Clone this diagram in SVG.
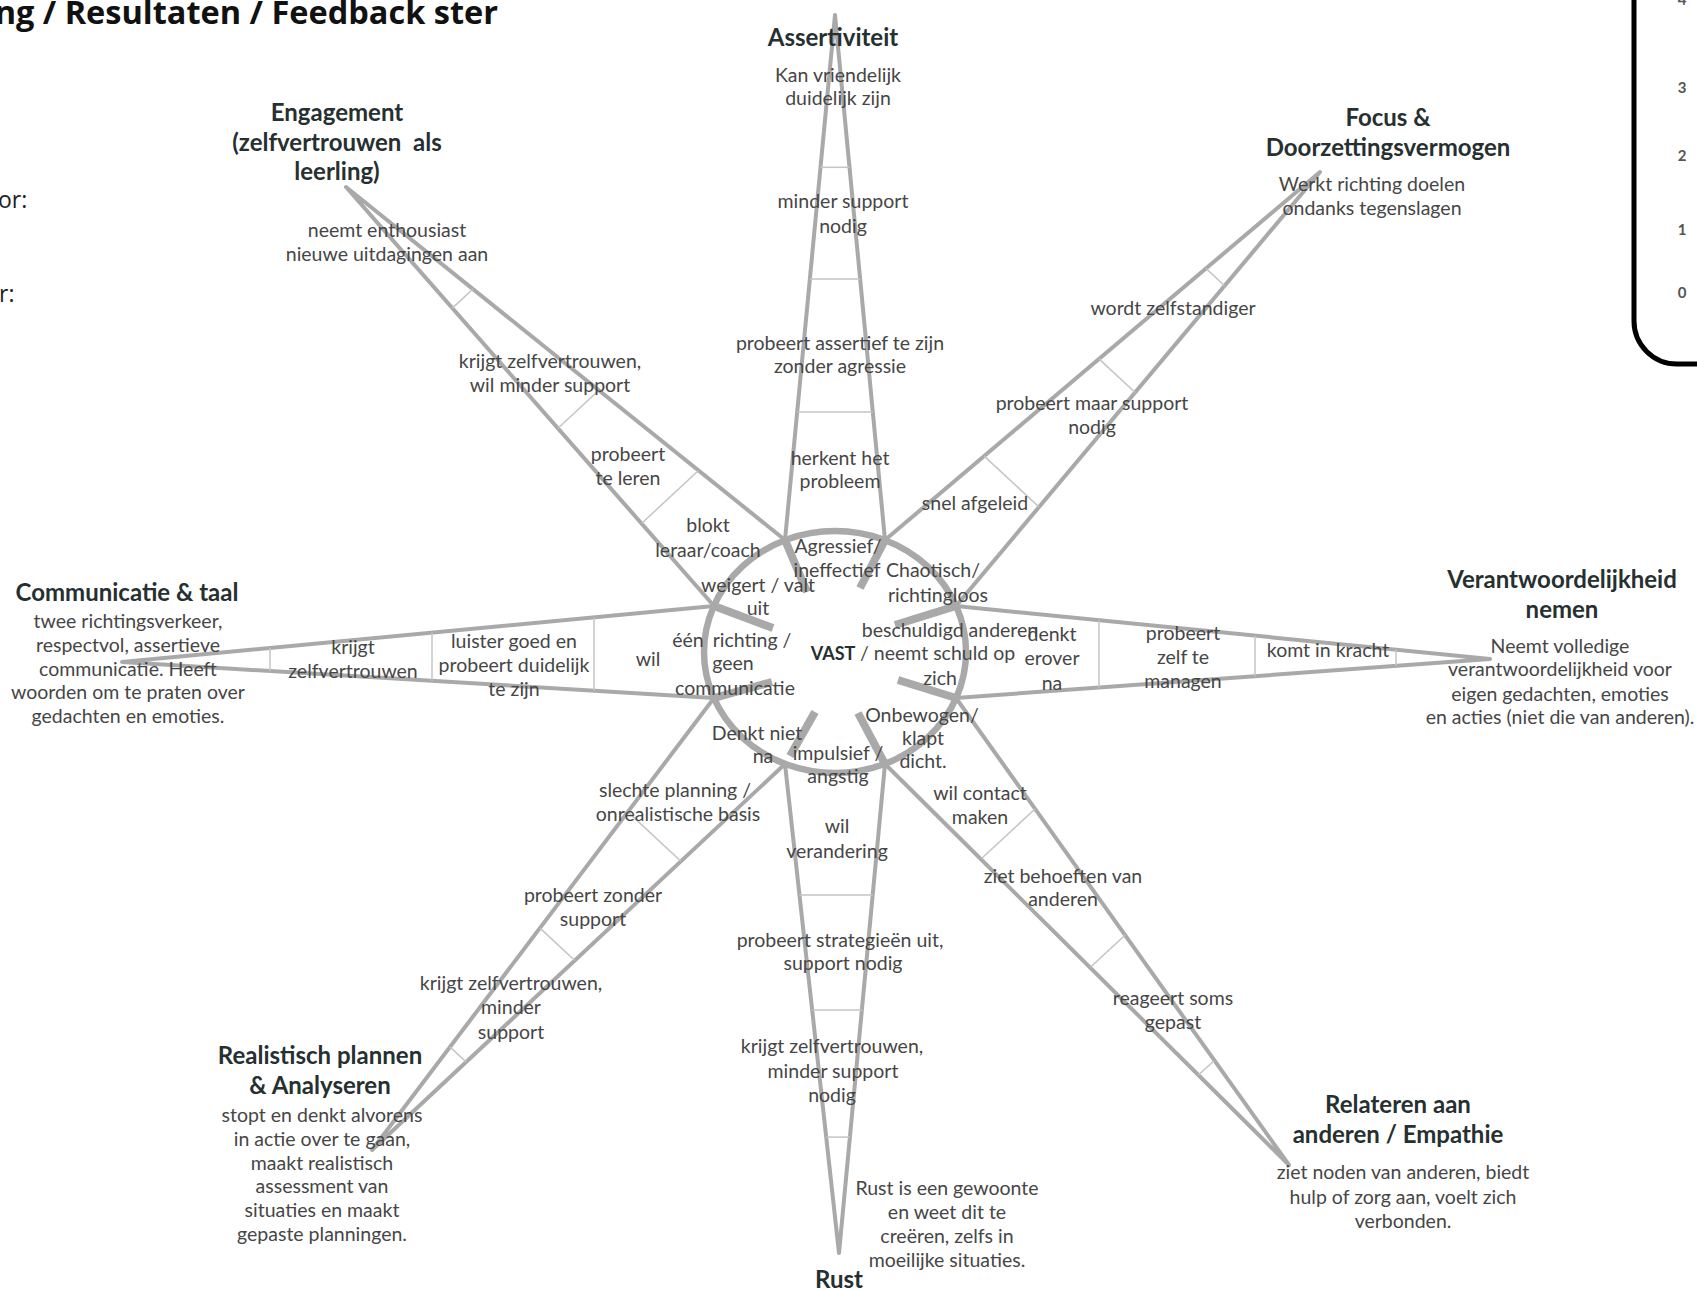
<svg xmlns="http://www.w3.org/2000/svg" width="1697" height="1289" viewBox="0 0 1697 1289">
<style>
.sp{stroke:#a9a9a9;stroke-width:4;fill:none;stroke-linejoin:round}
.tk{stroke:#c4c4c4;stroke-width:1.5}
.hub{stroke:#a9a9a9;stroke-width:6.5;fill:none}
.stub{stroke:#a9a9a9;stroke-width:8}
.t{font-family:Lato,"Liberation Sans",sans-serif;font-size:19.5px;fill:#464646;text-anchor:middle}
.h{font-family:Lato,"Liberation Sans",sans-serif;font-size:24px;font-weight:700;fill:#263030;text-anchor:middle}
.n{font-family:Lato,"Liberation Sans",sans-serif;font-size:15px;font-weight:700;fill:#555;text-anchor:middle}
</style>
<rect width="1697" height="1289" fill="#fff"/>
<text x="498" y="24" font-family="'Open Sans','Liberation Sans',sans-serif" font-size="32.5" font-weight="700" fill="#111" text-anchor="end">ng / Resultaten / Feedback ster</text>
<text x="-2" y="208" font-family="'Open Sans','Liberation Sans',sans-serif" font-size="23" fill="#222">or:</text>
<text x="-1" y="302" font-family="'Open Sans','Liberation Sans',sans-serif" font-size="23" fill="#222">r:</text>
<g id="scale">
<path d="M1634,-10 V321 A43,43 0 0 0 1677,364 H1710" fill="none" stroke="#000" stroke-width="5"/>
<text class="n" x="1682" y="5">4</text>
<text class="n" x="1682" y="93">3</text>
<text class="n" x="1682" y="161">2</text>
<text class="n" x="1682" y="235">1</text>
<text class="n" x="1682" y="298">0</text>
</g>
<g id="connectors">
<path class="sp" d="M714,606 L346,187 L785,540"/>
<path class="sp" d="M785,540 L835,15 L885,540"/>
<path class="sp" d="M885,540 L1320,172 L956,606"/>
<path class="sp" d="M956,606 L1490,659 L956,698"/>
<path class="sp" d="M956,698 L1289,1165 L885,764"/>
<path class="sp" d="M885,764 L839,1253 L785,764"/>
<path class="sp" d="M785,764 L372,1150 L714,698"/>
<path class="sp" d="M714,698 L122,662 L714,606"/>
<g class="tk">
<line x1="452.4" y1="308.1" x2="472.9" y2="289"/>
<line x1="558" y1="428.3" x2="598.9" y2="390.3"/>
<line x1="641.5" y1="523.5" x2="698.5" y2="470.5"/>
<line x1="820.5" y1="167.3" x2="849.5" y2="167.3"/>
<line x1="809.9" y1="279.1" x2="860.2" y2="279.1"/>
<line x1="797.2" y1="411.9" x2="872.8" y2="411.9"/>
<line x1="1206" y1="268.4" x2="1224.6" y2="285.7"/>
<line x1="1099" y1="358.9" x2="1135.1" y2="392.5"/>
<line x1="984.2" y1="456.1" x2="1039" y2="507"/>
<line x1="1396" y1="649.7" x2="1396" y2="665.9"/>
<line x1="1255" y1="635.7" x2="1255" y2="676.2"/>
<line x1="1099" y1="620.2" x2="1099" y2="687.5"/>
<line x1="1214.1" y1="1060.8" x2="1198.1" y2="1075.2"/>
<line x1="1125.2" y1="935.0" x2="1090.4" y2="967.3"/>
<line x1="1035.2" y1="808.8" x2="981.3" y2="858.8"/>
<line x1="849.9" y1="1137.1" x2="826.2" y2="1137.1"/>
<line x1="861.9" y1="1010" x2="812.2" y2="1010"/>
<line x1="872.7" y1="895.1" x2="799.5" y2="895.1"/>
<line x1="466.1" y1="1062" x2="449.9" y2="1046.9"/>
<line x1="574.8" y1="960.5" x2="540" y2="928.1"/>
<line x1="680.9" y1="861.3" x2="627.8" y2="811.9"/>
<line x1="270" y1="648" x2="270" y2="671"/>
<line x1="432" y1="632.7" x2="432" y2="680.9"/>
<line x1="594" y1="617.4" x2="594" y2="690.7"/>
</g>
</g>
<g id="hub">
<ellipse class="hub" cx="835" cy="652" rx="131" ry="121"/>
<line class="stub" x1="785" y1="540" x2="807" y2="592"/>
<line class="stub" x1="885" y1="540" x2="860" y2="588"/>
<line class="stub" x1="714" y1="606" x2="773" y2="628"/>
<line class="stub" x1="714" y1="698" x2="772" y2="682"/>
<line class="stub" x1="790" y1="756" x2="815" y2="712"/>
<line class="stub" x1="885" y1="764" x2="858" y2="713"/>
<line class="stub" x1="956" y1="698" x2="898" y2="680"/>
<line class="stub" x1="956" y1="606" x2="895" y2="625"/>
<text x="833" y="660" font-family="Lato,'Liberation Sans',sans-serif" font-size="18" font-weight="700" fill="#263030" text-anchor="middle">VAST</text>
</g>
<g id="engagement">
<text class="h" x="337" y="121">Engagement</text>
<text class="h" x="337" y="151" xml:space="preserve">(zelfvertrouwen  als</text>
<text class="h" x="337" y="180">leerling)</text>
<text class="t" x="387" y="237">neemt enthousiast</text>
<text class="t" x="387" y="261">nieuwe uitdagingen aan</text>
<text class="t" x="550" y="368">krijgt zelfvertrouwen,</text>
<text class="t" x="550" y="392">wil minder support</text>
<text class="t" x="628" y="461">probeert</text>
<text class="t" x="628" y="485">te leren</text>
<text class="t" x="708" y="532">blokt</text>
<text class="t" x="708" y="557">leraar/coach</text>
<text class="t" x="758" y="592">weigert / valt</text>
<text class="t" x="758" y="615">uit</text>
</g>
<g id="assertiviteit">
<text class="h" x="833" y="46">Assertiviteit</text>
<text class="t" x="838" y="82">Kan vriendelijk</text>
<text class="t" x="838" y="105">duidelijk zijn</text>
<text class="t" x="843" y="208">minder support</text>
<text class="t" x="843" y="233">nodig</text>
<text class="t" x="840" y="350">probeert assertief te zijn</text>
<text class="t" x="840" y="373">zonder agressie</text>
<text class="t" x="840" y="465">herkent het</text>
<text class="t" x="840" y="488">probleem</text>
<text class="t" x="838" y="553">Agressief/</text>
<text class="t" x="837" y="577">ineffectief</text>
</g>
<g id="focus">
<text class="h" x="1388" y="126">Focus &amp;</text>
<text class="h" x="1388" y="156">Doorzettingsvermogen</text>
<text class="t" x="1372" y="191">Werkt richting doelen</text>
<text class="t" x="1372" y="215">ondanks tegenslagen</text>
<text class="t" x="1173" y="315">wordt zelfstandiger</text>
<text class="t" x="1092" y="410">probeert maar support</text>
<text class="t" x="1092" y="434">nodig</text>
<text class="t" x="975" y="510">snel afgeleid</text>
<text class="t" x="933" y="577">Chaotisch/</text>
<text class="t" x="938" y="602">richtingloos</text>
</g>
<g id="verantwoordelijkheid">
<text class="h" x="1562" y="588">Verantwoordelijkheid</text>
<text class="h" x="1562" y="618">nemen</text>
<text class="t" x="1560" y="653">Neemt volledige</text>
<text class="t" x="1560" y="676">verantwoordelijkheid voor</text>
<text class="t" x="1560" y="701">eigen gedachten, emoties</text>
<text class="t" x="1560" y="724">en acties (niet die van anderen).</text>
<text class="t" x="1328" y="657">komt in kracht</text>
<text class="t" x="1183" y="640">probeert</text>
<text class="t" x="1183" y="664">zelf te</text>
<text class="t" x="1183" y="688">managen</text>
<text class="t" x="1052" y="641">denkt</text>
<text class="t" x="1052" y="665">erover</text>
<text class="t" x="1052" y="690">na</text>
<text class="t" x="950" y="637">beschuldigd anderen</text>
<text class="t" x="860" y="660" style="text-anchor:start">/ neemt schuld op</text>
<text class="t" x="940" y="685">zich</text>
</g>
<g id="relateren">
<text class="h" x="1398" y="1113">Relateren aan</text>
<text class="h" x="1398" y="1143">anderen / Empathie</text>
<text class="t" x="1403" y="1179">ziet noden van anderen, biedt</text>
<text class="t" x="1403" y="1204">hulp of zorg aan, voelt zich</text>
<text class="t" x="1403" y="1228">verbonden.</text>
<text class="t" x="1173" y="1005">reageert soms</text>
<text class="t" x="1173" y="1029">gepast</text>
<text class="t" x="1063" y="883">ziet behoeften van</text>
<text class="t" x="1063" y="906">anderen</text>
<text class="t" x="980" y="800">wil contact</text>
<text class="t" x="980" y="824">maken</text>
<text class="t" x="922" y="722">Onbewogen/</text>
<text class="t" x="923" y="745">klapt</text>
<text class="t" x="923" y="768">dicht.</text>
</g>
<g id="rust">
<text class="h" x="839" y="1288">Rust</text>
<text class="t" x="947" y="1195">Rust is een gewoonte</text>
<text class="t" x="947" y="1219">en weet dit te</text>
<text class="t" x="947" y="1243">creëren, zelfs in</text>
<text class="t" x="947" y="1267">moeilijke situaties.</text>
<text class="t" x="832" y="1053">krijgt zelfvertrouwen,</text>
<text class="t" x="833" y="1078">minder support</text>
<text class="t" x="832" y="1102">nodig</text>
<text class="t" x="840" y="947">probeert strategieën uit,</text>
<text class="t" x="843" y="970">support nodig</text>
<text class="t" x="837" y="833">wil</text>
<text class="t" x="837" y="858">verandering</text>
<text class="t" x="838" y="760">impulsief /</text>
<text class="t" x="838" y="783">angstig</text>
</g>
<g id="realistisch">
<text class="h" x="320" y="1064">Realistisch plannen</text>
<text class="h" x="320" y="1094">&amp; Analyseren</text>
<text class="t" x="322" y="1122">stopt en denkt alvorens</text>
<text class="t" x="322" y="1146">in actie over te gaan,</text>
<text class="t" x="322" y="1170">maakt realistisch</text>
<text class="t" x="322" y="1193">assessment van</text>
<text class="t" x="322" y="1217">situaties en maakt</text>
<text class="t" x="322" y="1241">gepaste planningen.</text>
<text class="t" x="511" y="990">krijgt zelfvertrouwen,</text>
<text class="t" x="511" y="1014">minder</text>
<text class="t" x="511" y="1039">support</text>
<text class="t" x="593" y="902">probeert zonder</text>
<text class="t" x="593" y="926">support</text>
<text class="t" x="675" y="797">slechte planning /</text>
<text class="t" x="678" y="821">onrealistische basis</text>
<text class="t" x="757" y="740">Denkt niet</text>
<text class="t" x="763" y="763">na</text>
</g>
<g id="communicatie">
<text class="h" x="127" y="601">Communicatie &amp; taal</text>
<text class="t" x="128" y="628">twee richtingsverkeer,</text>
<text class="t" x="128" y="652">respectvol, assertieve</text>
<text class="t" x="128" y="676">communicatie. Heeft</text>
<text class="t" x="128" y="699">woorden om te praten over</text>
<text class="t" x="128" y="723">gedachten en emoties.</text>
<text class="t" x="353" y="654">krijgt</text>
<text class="t" x="353" y="678">zelfvertrouwen</text>
<text class="t" x="514" y="648">luister goed en</text>
<text class="t" x="514" y="672">probeert duidelijk</text>
<text class="t" x="514" y="696">te zijn</text>
<text class="t" x="648" y="666">wil</text>
<text class="t" x="688" y="647">één</text>
<text class="t" x="752" y="647">richting /</text>
<text class="t" x="733" y="670">geen</text>
<text class="t" x="735" y="695">communicatie</text>
</g>
</svg>
